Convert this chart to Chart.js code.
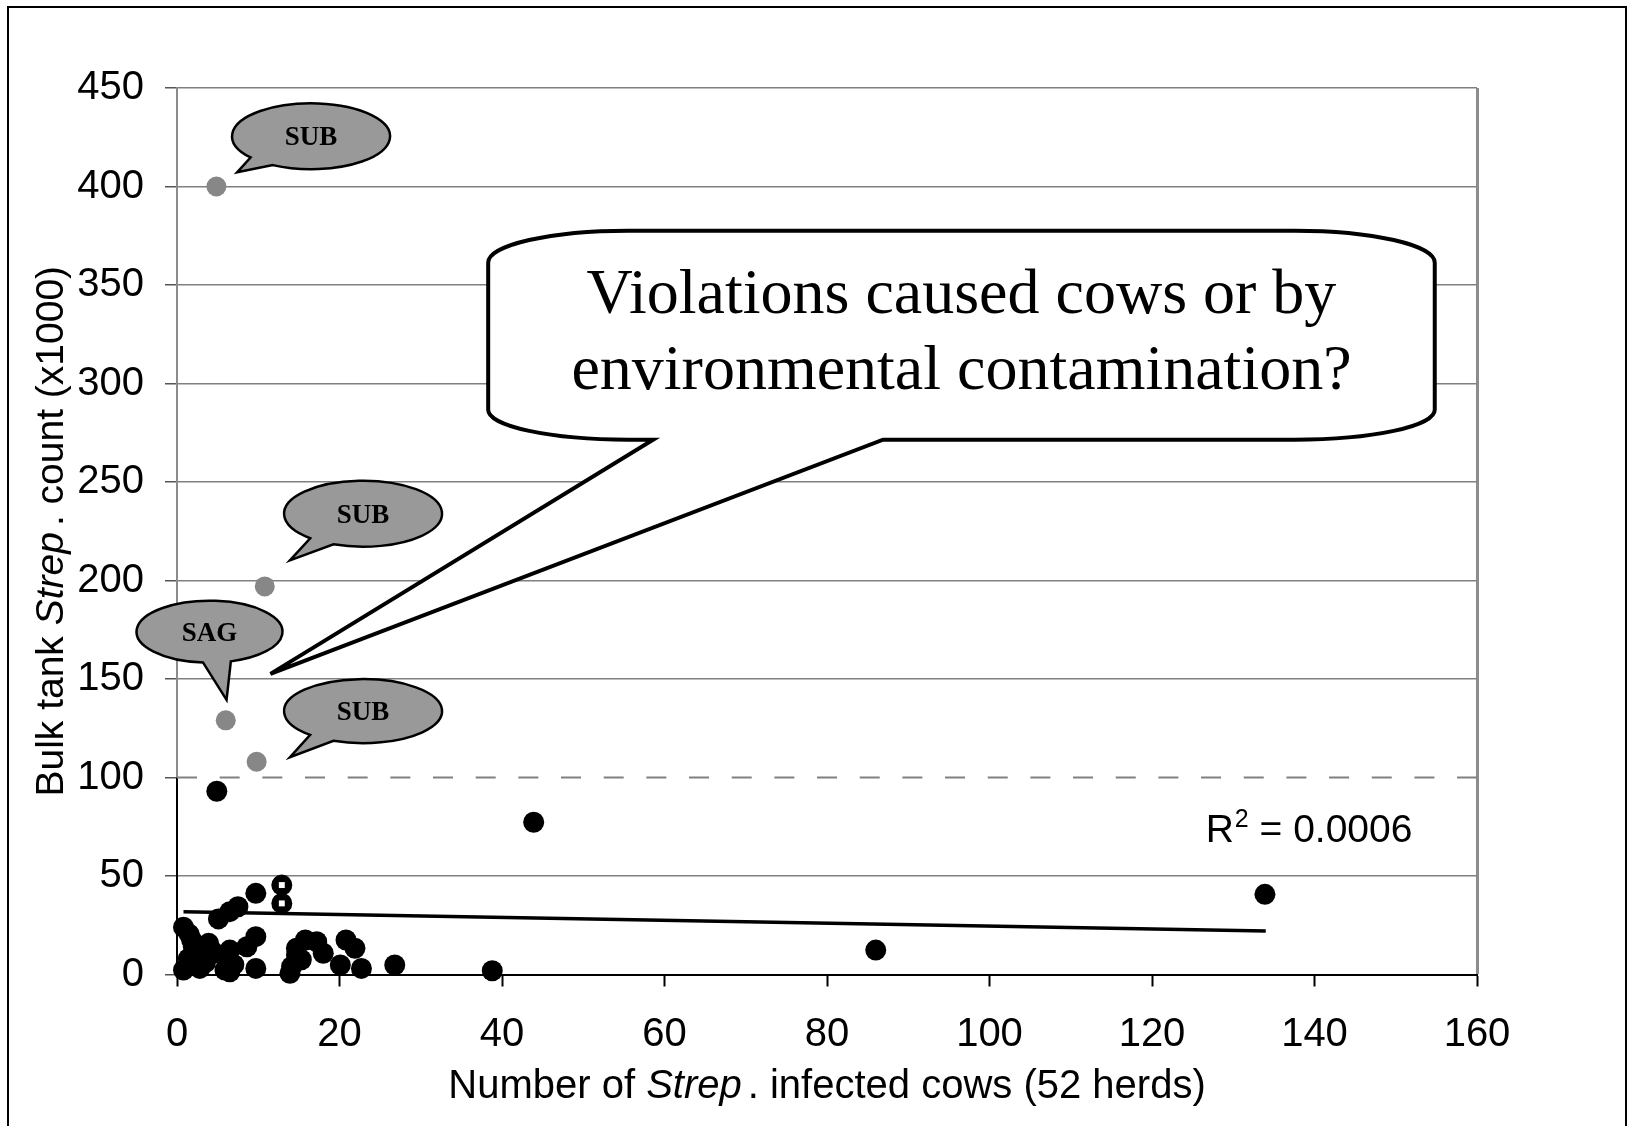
<!DOCTYPE html>
<html>
<head>
<meta charset="utf-8">
<script src="https://cdn.jsdelivr.net/npm/chart.js@4.4.0/dist/chart.umd.min.js"></script>
<style>
    html, body { margin: 0; padding: 0; background: #fff; }
    #wrap { position: relative; width: 1631px; height: 1126px; }
</style>
</head>
<body>
<div id="wrap"><canvas id="chart" width="1631" height="1126"></canvas></div>
<script>
// Herds below the violation limit (black dots)
const herdX = [4.9, 43.9, 133.9, 86.0, 38.8, 12.9, 12.9, 9.7, 7.5, 6.5, 5.1, 0.8, 1.8, 3.9, 2.0, 6.5, 8.6, 9.7,
    0.8, 2.8, 5.9, 6.5, 9.7, 6.1, 2.8, 13.9, 14.1, 14.7, 15.8, 17.2, 18.0, 14.7, 20.1, 20.8, 21.9, 22.7, 26.8,
    1.5, 1.4, 3.5, 7.0, 4.6, 15.3];
const herdY = [93, 77.3, 40.7, 12.4, 1.9, 45.4, 36.1, 41.2, 34.4, 31.9, 28.2, 24, 17.5, 15.8, 14.1, 12.4, 14.1, 19.2,
    2.3, 3.1, 2.3, 1.4, 3.1, 7.4, 9, 0.6, 4, 13.3, 17.5, 16.6, 10.8, 9.9, 4.8, 17.5, 13.3, 3.1, 4.8,
    20.5, 8, 6, 5, 11, 7.5];

// Herds above the limit (grey dots)
const violX = [4.85, 10.8, 6.0, 9.8];
const violY = [400, 197, 129, 108];

// the two dots with a white square inside
const markX = [12.9, 12.9];
const markY = [45.4, 36.1];

// linear trend line ends and the 100 limit line
const trendX = [0.8, 134];
const trendY = [31.9, 22.1];
const limitX = [0, 160];
const limitY = [100, 100];

const xTicks = [0, 20, 40, 60, 80, 100, 120, 140, 160];
const yTicks = [0, 50, 100, 150, 200, 250, 300, 350, 400, 450];

const xTitle = [['Number of ', false], ['Strep', true], ['. infected cows (52 herds)', false]];
const yTitle = [['Bulk tank ', false], ['Strep', true], ['. count (x1000)', false]];
const rSquared = '0.0006';

const bubbleLabels = ['SUB', 'SUB', 'SAG', 'SUB'];
const calloutLines = ['Violations caused cows or by', 'environmental contamination?'];

// annotation placement (data units for anchors, pixels for sizes)
const bubbles = [
    { x: 16.5, y: 425.5, tipX: 7.4, tipY: 407.2, rx: 79, ry: 33, a0: 119, a1: 140 },
    { x: 22.9, y: 233.9, tipX: 13.9, tipY: 210.2, rx: 79, ry: 33, a0: 112, a1: 132 },
    { x: 4.0, y: 174.0, tipX: 6.1, tipY: 139.4, rx: 73, ry: 31, a0: 73, a1: 95 },
    { x: 22.9, y: 133.7, tipX: 13.9, tipY: 110.3, rx: 79, ry: 32, a0: 112, a1: 132 }
];
const callout = { x0: 38.3, x1: 154.8, yTop: 377.6, yBottom: 271.5, base0: 58.6, base1: 86.9, tipX: 11.5, tipY: 152.6 };
const r2Pos = { x: 126.6, y: 67.4 };

const SANS = '"Liberation Sans", Arial, sans-serif';
const SERIF = '"Liberation Serif", "Times New Roman", serif';

function pts(xs, ys) {
    return xs.map((x, i) => ({ x: x, y: ys[i] }));
}

function drawParts(ctx, parts, cx, y, size) {
    let widths = [];
    let total = 0;
    parts.forEach(p => {
        ctx.font = (p[1] ? 'italic ' : '') + size + 'px ' + SANS;
        const w = ctx.measureText(p[0]).width + (p[1] ? 6 : 0);
        widths.push(w);
        total += w;
    });
    let x = cx - total / 2;
    ctx.textAlign = 'left';
    parts.forEach((p, i) => {
        ctx.font = (p[1] ? 'italic ' : '') + size + 'px ' + SANS;
        ctx.fillText(p[0], x, y);
        x += widths[i];
    });
}

const notes = {
    id: 'notes',
    beforeDraw(chart) {
        const ctx = chart.ctx;
        ctx.save();
        ctx.fillStyle = '#fff';
        ctx.fillRect(0, 0, chart.width, chart.height);
        ctx.strokeStyle = '#000';
        ctx.lineWidth = 2;
        ctx.beginPath();
        ctx.moveTo(8, chart.height);
        ctx.lineTo(8, 7);
        ctx.lineTo(1626, 7);
        ctx.lineTo(1626, chart.height);
        ctx.stroke();
        ctx.restore();
    },
    beforeDatasetsDraw(chart) {
        // lower part of the y axis is black
        const ctx = chart.ctx;
        const sx = chart.scales.x, sy = chart.scales.y;
        ctx.save();
        ctx.strokeStyle = '#000';
        ctx.lineWidth = 2;
        ctx.beginPath();
        ctx.moveTo(sx.getPixelForValue(0), sy.getPixelForValue(0));
        ctx.lineTo(sx.getPixelForValue(0), sy.getPixelForValue(100));
        ctx.stroke();
        ctx.restore();
    },
    afterDatasetsDraw(chart) {
        const ctx = chart.ctx;
        const sx = chart.scales.x, sy = chart.scales.y;
        ctx.save();

        // big callout
        const L = sx.getPixelForValue(callout.x0), R = sx.getPixelForValue(callout.x1);
        const T = sy.getPixelForValue(callout.yTop), B = sy.getPixelForValue(callout.yBottom);
        const rx = 140, ryT = 32, ryB = 30;
        ctx.beginPath();
        ctx.moveTo(L, T + ryT);
        ctx.ellipse(L + rx, T + ryT, rx, ryT, 0, Math.PI, 1.5 * Math.PI);
        ctx.lineTo(R - rx, T);
        ctx.ellipse(R - rx, T + ryT, rx, ryT, 0, 1.5 * Math.PI, 2 * Math.PI);
        ctx.lineTo(R, B - ryB);
        ctx.ellipse(R - rx, B - ryB, rx, ryB, 0, 0, 0.5 * Math.PI);
        ctx.lineTo(sx.getPixelForValue(callout.base1), B);
        ctx.lineTo(sx.getPixelForValue(callout.tipX), sy.getPixelForValue(callout.tipY));
        ctx.lineTo(sx.getPixelForValue(callout.base0), B);
        ctx.lineTo(L + rx, B);
        ctx.ellipse(L + rx, B - ryB, rx, ryB, 0, 0.5 * Math.PI, Math.PI);
        ctx.closePath();
        ctx.fillStyle = '#fff';
        ctx.fill();
        ctx.lineWidth = 4;
        ctx.lineJoin = 'miter';
        ctx.miterLimit = 6;
        ctx.strokeStyle = '#000';
        ctx.stroke();

        ctx.fillStyle = '#000';
        ctx.textAlign = 'center';
        ctx.textBaseline = 'alphabetic';
        ctx.font = '64px ' + SERIF;
        const mid = (L + R) / 2;
        ctx.fillText(calloutLines[0], mid, T + 82);
        ctx.fillText(calloutLines[1], mid, T + 158);

        // speech bubbles
        bubbles.forEach((b, i) => {
            const cx = sx.getPixelForValue(b.x), cy = sy.getPixelForValue(b.y);
            const a0 = b.a0 * Math.PI / 180, a1 = b.a1 * Math.PI / 180;
            ctx.beginPath();
            ctx.ellipse(cx, cy, b.rx, b.ry, 0, a1, a0 + 2 * Math.PI);
            ctx.lineTo(sx.getPixelForValue(b.tipX), sy.getPixelForValue(b.tipY));
            ctx.closePath();
            ctx.fillStyle = '#999999';
            ctx.fill();
            ctx.lineWidth = 2.5;
            ctx.strokeStyle = '#000';
            ctx.stroke();
            ctx.fillStyle = '#000';
            ctx.font = 'bold 27px ' + SERIF;
            ctx.textAlign = 'center';
            ctx.textBaseline = 'middle';
            ctx.fillText(bubbleLabels[i], cx, cy + 2);
        });

        // R squared label
        const rx0 = sx.getPixelForValue(r2Pos.x), ry0 = sy.getPixelForValue(r2Pos.y);
        ctx.textAlign = 'left';
        ctx.textBaseline = 'alphabetic';
        ctx.font = '39px ' + SANS;
        ctx.fillText('R', rx0, ry0);
        let w = ctx.measureText('R').width;
        ctx.font = '25px ' + SANS;
        ctx.fillText('2', rx0 + w + 1, ry0 - 15);
        w += ctx.measureText('2').width + 1;
        ctx.font = '39px ' + SANS;
        ctx.fillText(' = ' + rSquared, rx0 + w, ry0);
        ctx.restore();
    },
    afterDraw(chart) {
        const ctx = chart.ctx;
        const area = chart.chartArea;
        ctx.save();
        ctx.fillStyle = '#000';
        ctx.textBaseline = 'alphabetic';
        drawParts(ctx, xTitle, (area.left + area.right) / 2, 1098, 40);
        ctx.translate(63, (area.top + area.bottom) / 2);
        ctx.rotate(-Math.PI / 2);
        drawParts(ctx, yTitle, 0, 0, 39);
        ctx.restore();
    }
};

const ctx = document.getElementById('chart').getContext('2d');
const chart = new Chart(ctx, {
    type: 'scatter',
    data: {
        datasets: [
            {
                label: 'marked',
                data: pts(markX, markY),
                pointStyle: 'rect',
                pointRadius: 4.2,
                backgroundColor: '#fff',
                borderWidth: 0,
                clip: false,
                order: 0
            },
            {
                label: 'herds',
                data: pts(herdX, herdY),
                pointRadius: 10.5,
                backgroundColor: '#000',
                borderWidth: 0,
                clip: false,
                order: 1
            },
            {
                label: 'violations',
                data: pts(violX, violY),
                pointRadius: 10,
                backgroundColor: '#878787',
                borderWidth: 0,
                clip: false,
                order: 2
            },
            {
                label: 'trend',
                data: pts(trendX, trendY),
                showLine: true,
                pointRadius: 0,
                borderColor: '#000',
                borderWidth: 3.5,
                order: 3
            },
            {
                label: 'limit',
                data: pts(limitX, limitY),
                showLine: true,
                pointRadius: 0,
                borderColor: '#808080',
                borderWidth: 2,
                borderDash: [20, 22.67],
                order: 4
            }
        ]
    },
    options: {
        responsive: false,
        animation: false,
        devicePixelRatio: 1,
        layout: { padding: { left: 0, top: 88, right: 154, bottom: 0 } },
        plugins: {
            legend: { display: false },
            tooltip: { enabled: false }
        },
        scales: {
            x: {
                type: 'linear',
                min: 0,
                max: 160,
                afterBuildTicks: scale => { scale.ticks = xTicks.map(v => ({ value: v })); },
                afterFit: scale => { scale.height = 151.5; },
                ticks: {
                    color: '#000',
                    font: { family: SANS, size: 40 },
                    padding: 24,
                    maxRotation: 0
                },
                grid: {
                    color: c => (c.tick && c.tick.value === 160) ? '#8c8c8c' : 'rgba(0,0,0,0)',
                    lineWidth: c => (c.tick && c.tick.value === 160) ? 3 : 1,
                    tickColor: '#000',
                    tickLength: 12,
                    tickWidth: 2
                },
                border: { color: '#000', width: 2 },
                title: { display: false }
            },
            y: {
                type: 'linear',
                min: 0,
                max: 450,
                afterBuildTicks: scale => { scale.ticks = yTicks.map(v => ({ value: v })); },
                afterFit: scale => { scale.width = 177; },
                ticks: {
                    color: '#000',
                    font: { family: SANS, size: 40 },
                    padding: 21
                },
                grid: {
                    color: c => (c.tick && (c.tick.value === 100 || c.tick.value === 0)) ? 'rgba(0,0,0,0)' : '#808080',
                    lineWidth: 1.5,
                    tickColor: '#555',
                    tickLength: 12,
                    tickWidth: 1.5
                },
                border: { color: '#8c8c8c', width: 2 },
                title: { display: false }
            }
        }
    },
    plugins: [notes]
});
</script>
</body>
</html>
